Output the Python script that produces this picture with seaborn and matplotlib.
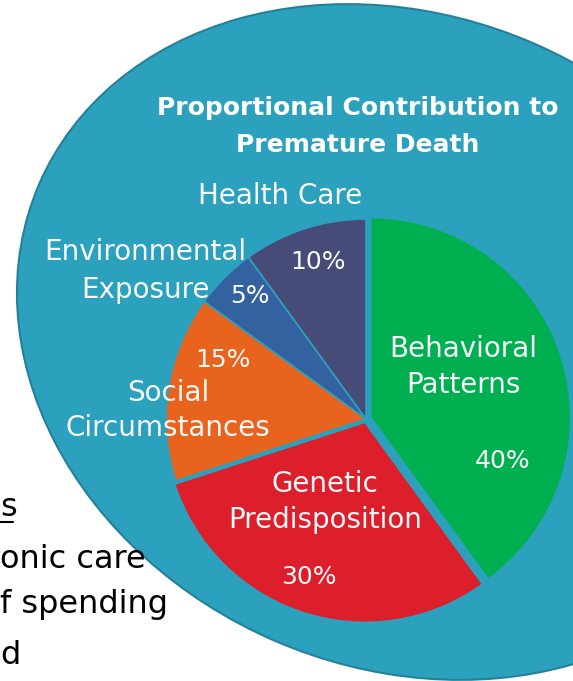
import matplotlib
matplotlib.use("Agg")
import matplotlib.pyplot as plt
from matplotlib.patches import Ellipse
import seaborn as sns

# ---- data ----
categories = ["Behavioral\nPatterns", "Genetic\nPredisposition", "Social\nCircumstances",
              "Environmental\nExposure", "Health Care"]
values = [40, 30, 15, 5, 10]
pct_labels = [f"{v}%" for v in values]
title_lines = ["Proportional Contribution to", "Premature Death"]
side_text = ["s", "onic care", "f spending", "d"]

# ---- styling / layout ----
colors = sns.color_palette(["#00B050", "#DC1F2B", "#E8641E", "#3462A0", "#474B78"])
explode_px = [5, 3.5, 0, 0, 0]
TEAL = "#2CA1BE"

sns.set_theme(style="white")
plt.rcParams["font.family"] = ["DejaVu Sans"]

W, H = 573, 681
fig = plt.figure(figsize=(W / 100, H / 100), dpi=100)
ax = fig.add_axes([0, 0, 1, 1])


def Y(y):
    return H - y


# background oval
bg = Ellipse((404, Y(342)), 795, 651, angle=-23.4, facecolor=TEAL,
             edgecolor="#23819A", linewidth=1.5, zorder=0)
ax.add_patch(bg)

# pie
wedges, _ = ax.pie(values, colors=colors, startangle=90, counterclock=False,
                   center=(366, Y(419)), radius=200, explode=explode_px,
                   wedgeprops=dict(edgecolor=TEAL, linewidth=1.2),
                   frame=True)
ax.set_xlim(0, W)
ax.set_ylim(0, H)
ax.set_aspect("equal")
ax.axis("off")

# title
for t, y in zip(title_lines, [108, 145]):
    ax.text(358, Y(y), t, color="white", fontsize=18, fontweight="bold",
            ha="center", va="center")

# category labels (one text per line)
cat_pos = [(463, [349, 385]), (325, [484, 520]), (168, [393, 428]),
           (145, [252, 290]), (280, [196])]
for lab, (x_, ys) in zip(categories, cat_pos):
    for line, y_ in zip(lab.split("\n"), ys):
        ax.text(x_, Y(y_), line, color="#F8F8F8", fontsize=20,
                ha="center", va="center")

pct_pos = [(503, 461), (309, 577), (223, 360), (250, 296), (318, 262)]
for lab, (x_, y_) in zip(pct_labels, pct_pos):
    ax.text(x_, Y(y_), lab, color="#F8F8F8", fontsize=18, ha="center", va="center")

# side text (cut-off slide text)
side_pos = [508, 560, 605, 655]
for t, y_ in zip(side_text, side_pos):
    ax.text(0, Y(y_), t, color="black", fontsize=23, ha="left", va="center")
ax.plot([0, 13], [Y(522), Y(522)], color="black", linewidth=1.5)

fig.savefig("out.png", dpi=100)
